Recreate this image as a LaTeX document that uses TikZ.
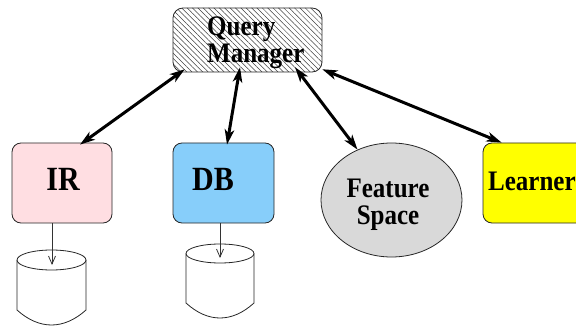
\documentclass[tikz,border=0pt]{standalone}
\usepackage{fontspec}
\setmainfont{Liberation Serif}
\usetikzlibrary{arrows.meta,patterns.meta,shapes.geometric}
\definecolor{irpink}{RGB}{255,222,226}
\definecolor{dbblue}{RGB}{135,206,250}
\definecolor{fsgray}{RGB}{217,217,217}
\definecolor{lnyellow}{RGB}{255,255,0}
% slightly tall bold lettering
\newcommand{\tall}[1]{\scalebox{1}[1.13]{#1}}
\begin{document}
\begin{tikzpicture}[x=1pt,y=-1pt,
  panel/.style={draw=black!85, line width=0.8pt, rounded corners=9pt,
    minimum width=#1, minimum height=80pt, inner sep=0pt},
  panel/.default=100pt,
  lbl/.style={font=\bfseries\fontsize{30}{32}\selectfont, inner sep=0pt},
  lblsmall/.style={font=\bfseries\fontsize{25}{27}\selectfont, inner sep=0pt, align=#1},
  lblsmall/.default=center,
  biarrow/.style={line width=3pt,
    {Stealth[length=15pt,width=9.5pt,inset=4pt]}-{Stealth[length=15pt,width=9.5pt,inset=4pt]}},
  feed/.style={draw=black!80, line width=0.8pt, -{Straight Barb[length=8pt,width=7pt]}},
  store/.style={draw=black!85, line width=0.8pt, fill=white}
]
\useasboundingbox (0,0) rectangle (576,326);

% query manager (hatched)
\node[draw=black!85, line width=0.8pt, rounded corners=10pt,
      minimum width=149pt, minimum height=64pt, inner sep=0pt,
      preaction={fill=white},
      pattern={Lines[angle=-45,distance=3.8pt,line width=0.5pt]},
      pattern color=black!75] (qm) at (247.5,40) {};
\node[lblsmall=left, anchor=west] (qmtext) at (207,43) {\tall{Query}\\\tall{Manager}};

% components
\node[panel, fill=irpink] (ir) at (62,183) {};
\node[lbl, anchor=base] (irtext) at (63,191) {\tall{IR}};

\node[panel=101pt, fill=dbblue] (db) at (223.5,183) {};
\node[lbl, anchor=base] (dbtext) at (213,191) {\tall{DB}};

\node[ellipse, draw=black!85, line width=0.8pt, fill=fsgray,
      minimum width=141pt, minimum height=114pt, inner sep=0pt] (fs) at (391.5,200) {};
\node[lblsmall] (fstext) at (388,205) {\tall{Feature}\\\tall{Space}};

\node[panel=117pt, fill=lnyellow] (ln) at (541.5,183) {};
\node[lblsmall, anchor=base west] (lntext) at (488,191) {\tall{Learner}};

% links to the query manager
\draw[biarrow] ([xshift=12pt,yshift=3pt]qm.south west) -- ([xshift=18pt,yshift=-2pt]ir.north);
\draw[biarrow] ([xshift=-7.5pt,yshift=5pt]qm.south) -- ([xshift=3.5pt,yshift=-2pt]db.north);
\draw[biarrow] ([xshift=47.5pt,yshift=5pt]qm.south) -- (fs.124);
\draw[biarrow] ([yshift=3pt]qm.south east) -- ([xshift=19pt]ln.north west);

% data stores
\draw[store] (17,260) -- (17,310)
  .. controls (28,320) and (40,325) .. (51.5,325)
  .. controls (63,325) and (75,320) .. (86,310) -- (86,260);
\draw[store] (51.5,260) ellipse [x radius=34.5, y radius=10];
\coordinate (irstore) at (52,265);

\draw[store] (186,253.5) -- (186,303)
  .. controls (197,313) and (208.5,318) .. (220,318)
  .. controls (231.5,318) and (243,313) .. (254,303) -- (254,253.5);
\draw[store] (220,253.5) ellipse [x radius=34, y radius=9.5];
\coordinate (dbstore) at (220,258);

\draw[feed] ([xshift=-10pt]ir.south) -- (irstore);
\draw[feed] ([xshift=-3.5pt]db.south) -- (dbstore);
\end{tikzpicture}
\end{document}
